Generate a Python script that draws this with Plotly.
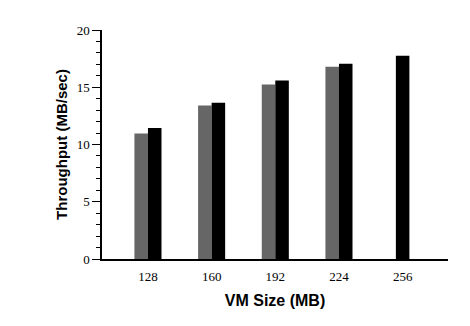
import plotly.graph_objects as go

# VM sizes (MB) and measured throughput (MB/sec)
vm_sizes = [128, 160, 192, 224, 256]
throughput_gray = [10.95, 13.4, 15.25, 16.8, None]
throughput_black = [11.45, 13.65, 15.6, 17.05, 17.75]

bar_w = 6.8  # bar width in MB units

# Place pairs side by side; a lone bar sits centred on its category
gray_x = [s - bar_w / 2 for s in vm_sizes]
black_x = [s + bar_w / 2 if g is not None else s
           for s, g in zip(vm_sizes, throughput_gray)]

fig = go.Figure()
fig.add_trace(go.Bar(x=gray_x, y=throughput_gray, width=bar_w,
                     marker=dict(color="#666666", line=dict(width=0)),
                     showlegend=False))
fig.add_trace(go.Bar(x=black_x, y=throughput_black, width=bar_w,
                     marker=dict(color="#000000", line=dict(width=0)),
                     showlegend=False))

fig.update_layout(
    width=470, height=326,
    margin=dict(l=102, r=22, t=30, b=67),
    paper_bgcolor="white", plot_bgcolor="white",
    barmode="overlay",
    xaxis=dict(
        range=[104.9, 278.8],
        tickvals=vm_sizes, ticktext=[str(v) for v in vm_sizes],
        showgrid=False, zeroline=False,
        showline=True, linecolor="black", linewidth=1.5,
        ticks="", ticklabelstandoff=5,
        tickfont=dict(family="Liberation Serif", size=13, color="black"),
        title=dict(text="<b>VM Size (MB)</b>", standoff=11,
                   font=dict(family="Liberation Sans", size=16, color="black")),
    ),
    yaxis=dict(
        range=[0, 20], tickvals=[0, 5, 10, 15, 20],
        showgrid=False, zeroline=False,
        showline=True, linecolor="black", linewidth=1.5,
        ticks="outside", ticklen=8, tickwidth=1.2, tickcolor="black",
        minor=dict(dtick=1, ticks="outside", ticklen=4, tickwidth=1, tickcolor="black"),
        tickfont=dict(family="Liberation Serif", size=13, color="black"),
        title=dict(text="<b>Throughput (MB/sec)</b>", standoff=5,
                   font=dict(family="Liberation Sans", size=15, color="black")),
    ),
)

fig.write_html("out.html")
